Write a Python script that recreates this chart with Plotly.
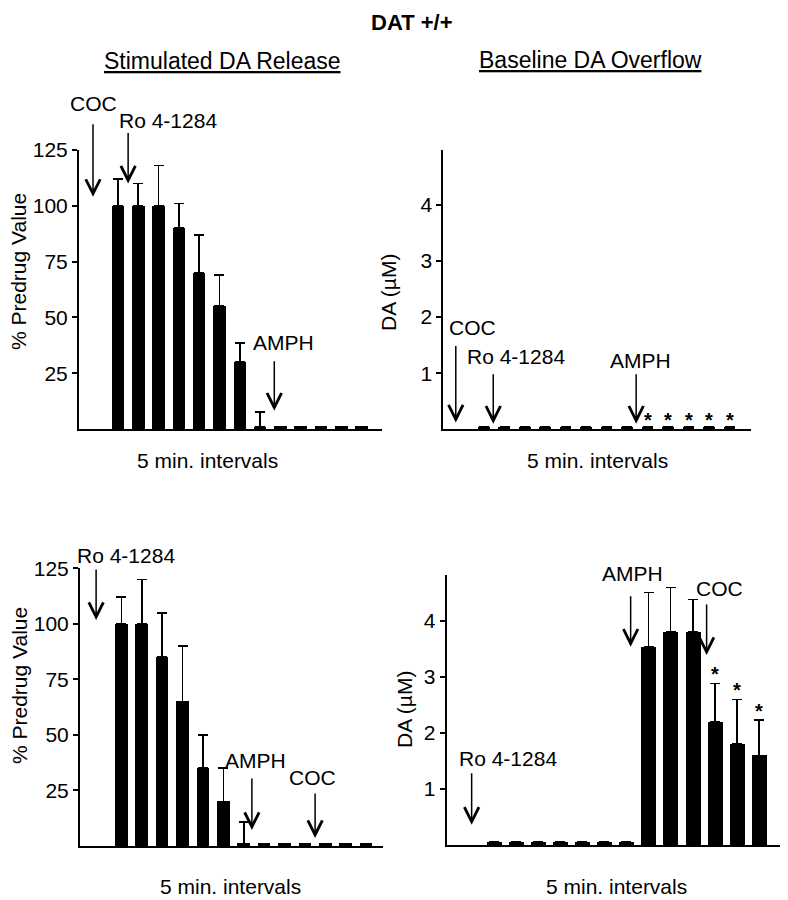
import plotly.graph_objects as go

# ---------------- data ----------------
intervals = list(range(1, 14))

# Top-left: Stimulated DA release (% predrug value)
tl_values = [100, 100, 100, 90, 70, 55, 30, 1, 1.2, 1.2, 1.2, 1.2, 1.2]
tl_errors = [12, 10, 18, 11, 17, 14, 8.5, 6.5, 0, 0, 0, 0, 0]

# Top-right: Baseline DA overflow (uM)
tr_values = [0.05, 0.05, 0.05, 0.05, 0.05, 0.05, 0.05, 0.05, 0.05, 0.05, 0.05, 0.05, 0.05]
tr_errors = [0, 0, 0, 0, 0, 0, 0, 0, 0, 0, 0, 0, 0]
tr_sig = [9, 10, 11, 12, 13]

# Bottom-left: Stimulated DA release (% predrug value)
bl_values = [100, 100, 85, 65, 35, 20, 1.2, 1.2, 1.2, 1.2, 1.2, 1.2, 1.2]
bl_errors = [12, 20, 20, 25, 15, 15, 9.5, 0, 0, 0, 0, 0, 0]

# Bottom-right: Baseline DA overflow (uM)
br_values = [0.05, 0.05, 0.05, 0.05, 0.05, 0.05, 0.05, 3.53, 3.8, 3.8, 2.2, 1.8, 1.6]
br_errors = [0, 0, 0, 0, 0, 0, 0, 0.98, 0.8, 0.58, 0.68, 0.8, 0.63]
br_sig = [11, 12, 13]

pct_ticks = [25, 50, 75, 100, 125]
um_ticks = [1, 2, 3, 4]

FONT = "Liberation Sans, Arial, sans-serif"
FS = 21

# page body has an 8px margin: figure is placed at (8, 8)
OFF = 8
W, H = 780, 892


def px_x(a, b):
    return [(a - OFF) / W, (b - OFF) / W]


def px_y(top, bottom):
    return [1 - (bottom - OFF) / H, 1 - (top - OFF) / H]


def P(x, y):
    return (x - OFF) / W, 1 - (y - OFF) / H


fig = go.Figure()


def add_bars(vals, errs, xa, ya, width):
    fig.add_trace(go.Bar(
        x=intervals, y=vals, width=width,
        marker=dict(color="black", line=dict(width=0)),
        error_y=dict(type="data", array=errs, arrayminus=[0] * len(errs),
                     symmetric=False, color="black", thickness=1.6, width=5),
        xaxis=xa, yaxis=ya, showlegend=False,
    ))


add_bars(tl_values, tl_errors, "x", "y", 0.62)
add_bars(tr_values, tr_errors, "x2", "y2", 0.57)
add_bars(bl_values, bl_errors, "x3", "y3", 0.62)
add_bars(br_values, br_errors, "x4", "y4", 0.68)


def yax(domain, rng, ticks, anchor):
    return dict(domain=domain, range=rng, tickvals=ticks, ticktext=[str(t) for t in ticks],
                showline=True, linewidth=2, linecolor="black", ticks="outside",
                ticklen=5, tickwidth=1.5, tickcolor="black", showgrid=False,
                zeroline=False, anchor=anchor, automargin=False,
                tickfont=dict(family=FONT, size=FS, color="black"))


def xax(domain, rng, anchor):
    return dict(domain=domain, range=rng, showline=True, linewidth=2, linecolor="black",
                showticklabels=False, ticks="", showgrid=False, zeroline=False,
                anchor=anchor, automargin=False)


fig.update_layout(
    xaxis=xax(px_x(79, 381.7), [-0.92, 13.99], "y"),
    yaxis=yax(px_y(150, 429), [0, 125], pct_ticks, "x"),
    xaxis2=xax(px_x(443.3, 751), [-0.99, 14.04], "y2"),
    yaxis2=yax(px_y(150, 429.3), [0, 4.98], um_ticks, "x2"),
    xaxis3=xax(px_x(80, 383), [-1.03, 13.83], "y3"),
    yaxis3=yax(px_y(568.3, 846), [0, 125], pct_ticks, "x3"),
    xaxis4=xax(px_x(446.7, 781.7), [-1.14, 14.03], "y4"),
    yaxis4=yax(px_y(575, 845), [0, 4.82], um_ticks, "x4"),
)

ann = []


def label(text, px, py, size=FS, **kw):
    x, y = P(px, py)
    ann.append(dict(text=text, x=x, y=y, xref="paper", yref="paper", showarrow=False,
                    xanchor="center", yanchor="middle",
                    font=dict(family=FONT, size=size, color="black"), **kw))


def dlabel(text, x, y, xref, yref, size=FS):
    ann.append(dict(text=text, x=x, y=y, xref=xref, yref=yref, showarrow=False,
                    xanchor="center", yanchor="middle",
                    font=dict(family=FONT, size=size, color="black")))


def arrow(x, y, xref, yref, length):
    ann.append(dict(text="", x=x, y=y, xref=xref, yref=yref, showarrow=True,
                    ax=0, ay=-length, arrowhead=5, arrowsize=1.9, arrowwidth=1.5,
                    arrowcolor="black"))


# Top-left arrows & labels
label("COC", 93, 103)
arrow(-0.23, 104, "x", "y", 74)
label("Ro 4-1284", 168, 120)
arrow(1.5, 110, "x", "y", 52)
label("AMPH", 283, 343)
arrow(8.7, 8.2, "x", "y", 51)

# Top-right arrows & labels
label("COC", 472, 327)
arrow(-0.38, 0.12, "x2", "y2", 78)
label("Ro 4-1284", 516, 356)
arrow(1.45, 0.1, "x2", "y2", 51)
label("AMPH", 640, 360)
arrow(8.43, 0.1, "x2", "y2", 51)
for i in tr_sig:
    dlabel("<b>*</b>", i, 0.17, "x2", "y2", size=20)

# Bottom-left arrows & labels
label("Ro 4-1284", 126, 555)
arrow(-0.24, 101.7, "x3", "y3", 52)
label("AMPH", 255, 760)
arrow(7.4, 7.2, "x3", "y3", 53)
label("COC", 312, 777)
arrow(10.5, 3.6, "x3", "y3", 46)

# Bottom-right arrows & labels
label("Ro 4-1284", 508, 758)
arrow(-0.01, 0.36, "x4", "y4", 53)
label("AMPH", 632, 573)
arrow(7.19, 3.54, "x4", "y4", 52)
label("COC", 719, 588)
arrow(10.63, 3.39, "x4", "y4", 52)
for i in br_sig:
    k = i - 1
    dlabel("<b>*</b>", i, br_values[k] + br_errors[k] + 0.17, "x4", "y4", size=20)

# Titles
label("<b>DAT +/+</b>", 412, 22, size=22)
label("<u>Stimulated DA Release</u>", 222, 61, size=23)
label("<u>Baseline DA Overflow</u>", 590, 60, size=23)

# Axis titles
label("% Predrug Value", 19, 272, textangle=-90)
label("% Predrug Value", 19, 686, textangle=-90)
label("DA (µM)", 388, 293, textangle=-90)
label("DA (µM)", 404, 710, textangle=-90)
label("5 min. intervals", 208, 460)
label("5 min. intervals", 597, 461)
label("5 min. intervals", 230, 886)
label("5 min. intervals", 616, 886)

fig.update_layout(
    annotations=ann,
    width=W, height=H, autosize=False,
    margin=dict(l=0, r=0, t=0, b=0, pad=0),
    paper_bgcolor="white", plot_bgcolor="white",
    bargap=0, showlegend=False,
    font=dict(family=FONT, size=FS, color="black"),
)

fig.write_html("out.html")
